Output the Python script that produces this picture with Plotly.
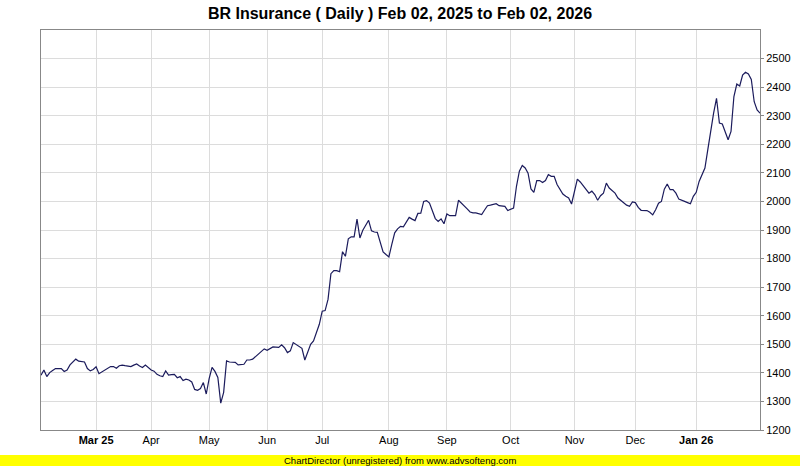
import plotly.graph_objects as go

# Daily closes (one per trading day)
closes = [
    1392, 1410, 1387, 1401, 1408, 1415, 1415, 1415, 1405, 1410,
    1428, 1438, 1448, 1441, 1440, 1438, 1415, 1407, 1412, 1421,
    1397, 1403, 1408, 1413, 1422, 1422, 1416, 1425, 1427, 1425,
    1423, 1422, 1427, 1431, 1424, 1419, 1427, 1418, 1410, 1406,
    1395, 1390, 1387, 1407, 1392, 1394, 1395, 1383, 1387, 1373,
    1378, 1375, 1368, 1342, 1339, 1345, 1366, 1326, 1380, 1419,
    1405, 1384, 1294, 1332, 1442, 1438, 1438, 1437, 1428, 1429,
    1430, 1445, 1445, 1448, 1457, 1466, 1472, 1484, 1479, 1484,
    1491, 1490, 1489, 1498, 1488, 1471, 1477, 1506, 1499, 1490,
    1486, 1445, 1475, 1500, 1512, 1540, 1570, 1616, 1618, 1657,
    1747, 1758, 1758, 1754, 1824, 1808, 1869, 1876, 1876, 1938,
    1872, 1899, 1915, 1934, 1897, 1893, 1892, 1860, 1823, 1814,
    1806, 1850, 1890, 1904, 1913, 1911, 1930, 1944, 1938, 1933,
    1958, 1959, 2000, 2003, 1994, 1965, 1940, 1930, 1939, 1922,
    1956, 1950, 1950, 1950, 2004, 1995, 1985, 1974, 1963, 1960,
    1960, 1958, 1954, 1970, 1985, 1987, 1989, 1992, 1985, 1983,
    1983, 1968, 1972, 1977, 2053, 2106, 2126, 2117, 2099, 2044,
    2032, 2073, 2073, 2066, 2073, 2094, 2088, 2088, 2059, 2044,
    2026, 2018, 2012, 1991, 2036, 2078, 2068, 2055, 2041, 2029,
    2036, 2024, 2004, 2020, 2029, 2064, 2047, 2039, 2029, 2012,
    2003, 1995, 1987, 1983, 1998, 1996, 1979, 1969, 1968, 1968,
    1962, 1953, 1971, 1994, 2000, 2043, 2061, 2041, 2041, 2029,
    2008, 2003, 2000, 1996, 1992, 2018, 2032, 2070, 2094, 2117,
    2181, 2250, 2309, 2361, 2274, 2271, 2240, 2216, 2245, 2367,
    2411, 2404, 2442, 2452, 2446, 2427, 2349, 2320, 2309,
]
day_index = list(range(len(closes)))

# First trading day of each month (index into the series) and labels
month_start_idx = [19, 38, 58, 78, 97, 120, 140, 162, 184, 205, 226]
month_labels = ["<b>Mar 25</b>", "Apr", "May", "Jun", "Jul", "Aug",
                "Sep", "Oct", "Nov", "Dec", "<b>Jan 26</b>"]

price_ticks = list(range(1200, 2501, 100))

FONT = "Liberation Sans, Arial, sans-serif"

fig = go.Figure()
fig.add_trace(go.Scatter(
    x=day_index, y=closes, mode="lines",
    line=dict(color="#1b1b5c", width=1.2),
    hoverinfo="skip", showlegend=False,
))

fig.update_layout(
    width=800, height=466,
    margin=dict(l=41, r=40, t=30, b=36, autoexpand=False),
    paper_bgcolor="white", plot_bgcolor="white",
    title=dict(
        text="<b>BR Insurance ( Daily ) Feb 02, 2025 to Feb 02, 2026</b>",
        x=0.5, xanchor="center", y=1 - 13 / 466, yanchor="middle",
        font=dict(family=FONT, size=16, color="#000000"),
    ),
    xaxis=dict(
        range=[0, len(closes) - 1],
        tickvals=month_start_idx, ticktext=month_labels,
        showgrid=True, gridcolor="#dcdcdc", gridwidth=1,
        showline=True, linecolor="#888888", linewidth=1, mirror=True,
        ticks="", zeroline=False, automargin=False,
        tickfont=dict(family=FONT, size=11, color="#000000"),
    ),
    yaxis=dict(
        side="right", range=[1200, 2600],
        tickvals=price_ticks,
        showgrid=True, gridcolor="#dcdcdc", gridwidth=1,
        showline=True, linecolor="#888888", linewidth=1, mirror=True,
        ticks="outside", ticklen=3, tickcolor="#888888",
        zeroline=False, automargin=False,
        tickfont=dict(family=FONT, size=11, color="#000000"),
    ),
    shapes=[dict(
        type="rect", xref="paper", yref="paper",
        x0=-41 / 719, x1=1 + 40 / 719,
        y0=-36 / 400, y1=-25 / 400,
        fillcolor="#ffff00", line=dict(width=0), layer="below",
    )],
    annotations=[dict(
        text="ChartDirector (unregistered) from www.advsofteng.com",
        xref="paper", yref="paper", x=(400 - 41) / 719, y=-30.5 / 400,
        xanchor="center", yanchor="middle", showarrow=False,
        font=dict(family=FONT, size=9.5, color="#000000"),
    )],
)

fig.write_html(
    "out.html",
    config={"displayModeBar": False},
    post_script="document.body.style.margin='0';document.body.style.padding='0';",
)
